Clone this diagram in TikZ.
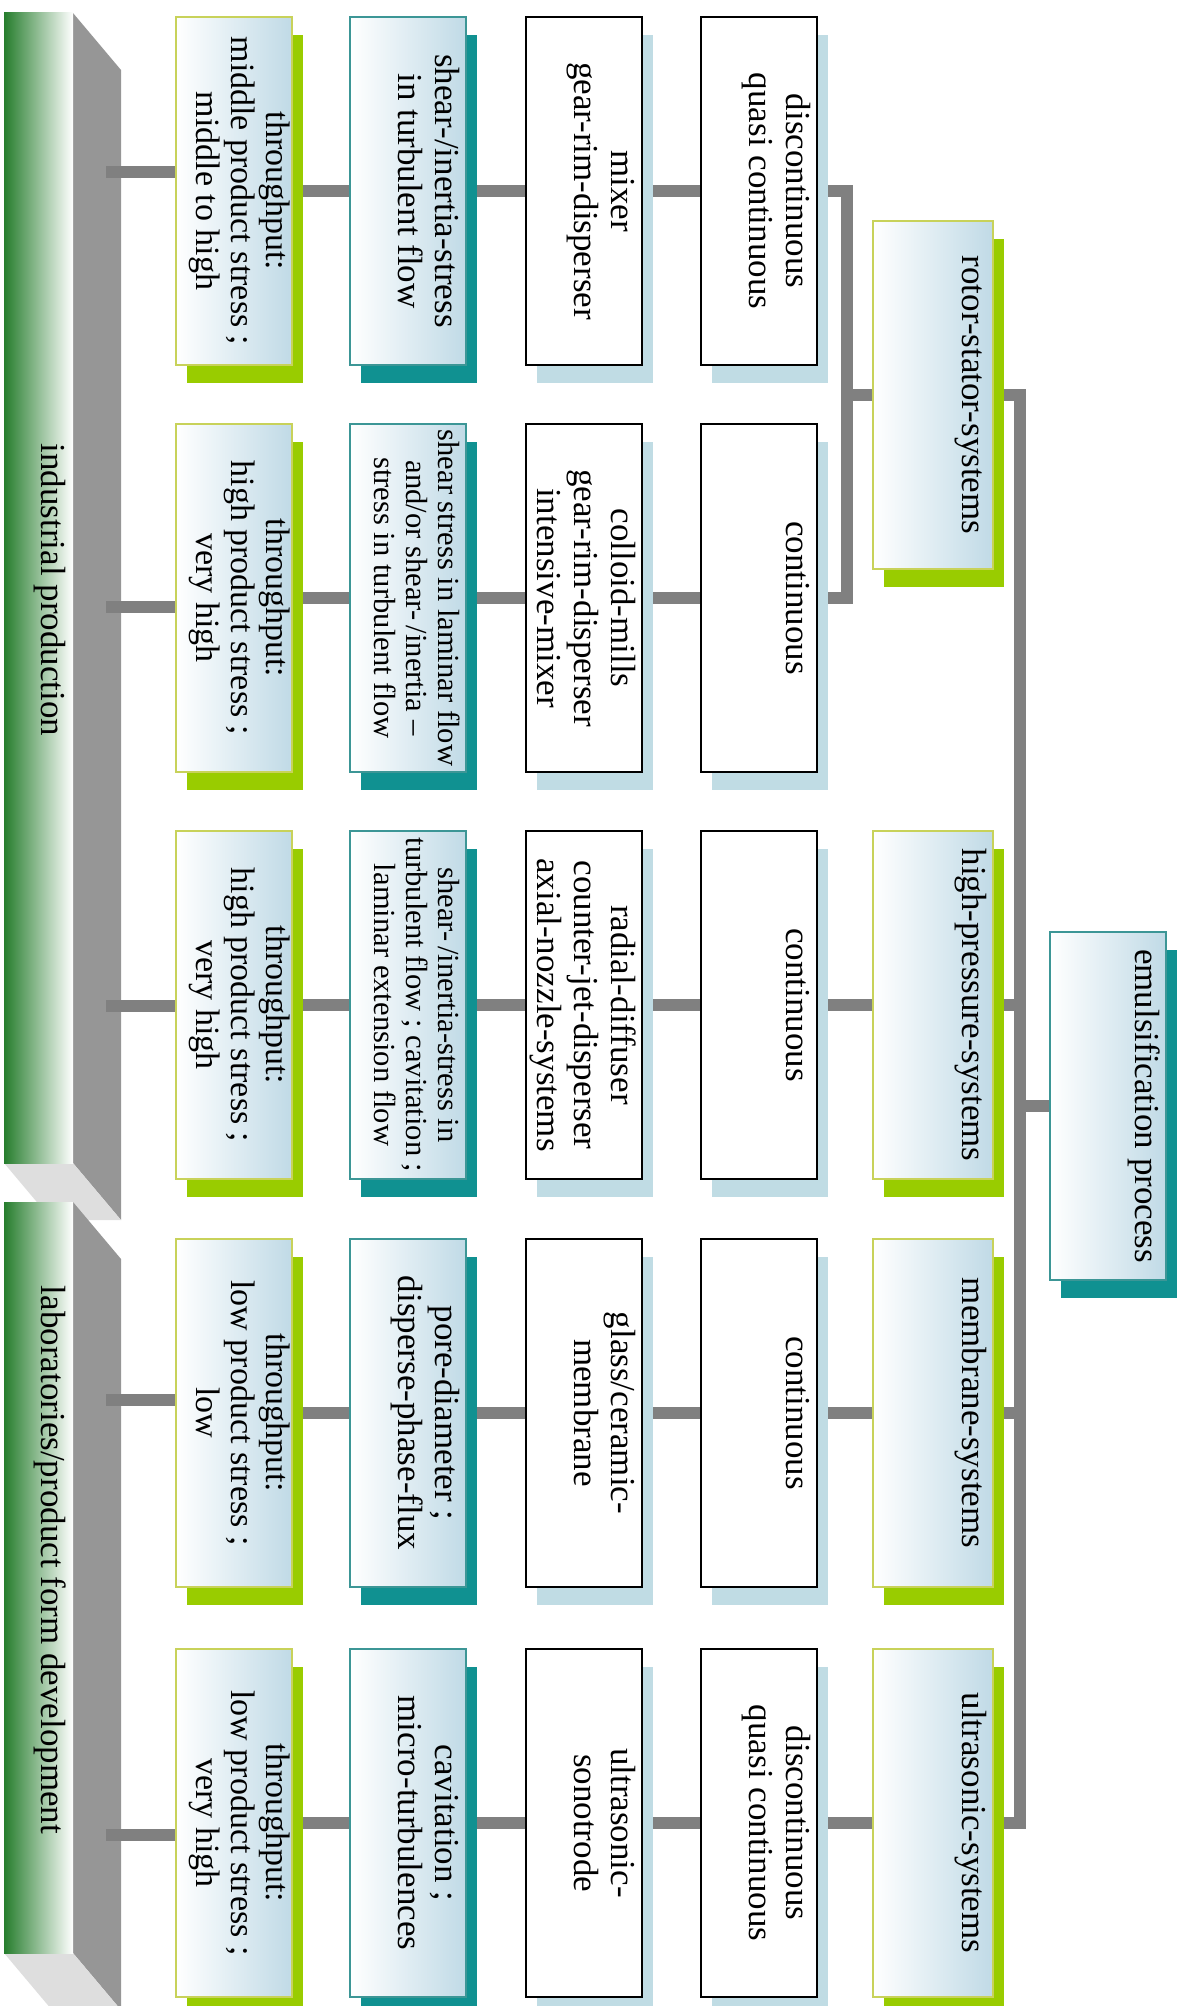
\documentclass[tikz,border=0pt]{standalone}
\usepackage{fontspec}
\setmainfont{Liberation Serif}
\usepackage{graphicx}
\usetikzlibrary{shadows,backgrounds}

\definecolor{bargreen}{RGB}{38,125,45}
\definecolor{bargray}{RGB}{150,150,150}
\definecolor{barlight}{RGB}{222,222,222}
\definecolor{conngray}{RGB}{128,128,128}
\definecolor{limeshadow}{RGB}{153,204,0}
\definecolor{limeline}{RGB}{200,210,90}
\definecolor{tealshadow}{RGB}{16,145,145}
\definecolor{tealline}{RGB}{60,150,150}
\definecolor{paleblue}{RGB}{192,220,228}
\definecolor{shadeblue}{RGB}{192,218,230}

\newcommand{\boxfont}{\fontsize{17}{17.5}\selectfont\vspace*{-2.5pt}}
\newcommand{\boxfontbig}{\fontsize{17.5}{18.5}\selectfont\vspace*{-0.5pt}}
\newcommand{\boxfontsmall}{\fontsize{15.3}{16}\selectfont\vspace*{-0.5pt}}
\newcommand{\sysfont}{\fontsize{17.5}{20}\selectfont\vspace*{-2.5pt}}
\newcommand{\emulfont}{\fontsize{17.5}{20}\selectfont\vspace*{-1.5pt}}
\newcommand{\boxtext}[2][\boxfontbig]{\rotatebox{-90}{\begin{minipage}[c][52pt][t]{172pt}\centering#1\strut#2\end{minipage}}}

\begin{document}
\begin{tikzpicture}[x=0.5pt,y=-0.5pt,
  box/.style={rectangle,inner sep=0pt,minimum width=58pt,minimum height=174pt,line width=0.8pt},
  limebox/.style={box,draw=limeline,left color=white,right color=shadeblue,
    drop shadow={shadow xshift=5.5pt,shadow yshift=-9pt,fill=limeshadow,opacity=1}},
  tealbox/.style={box,draw=tealline,left color=white,right color=shadeblue,
    drop shadow={shadow xshift=5.5pt,shadow yshift=-9pt,fill=tealshadow,opacity=1}},
  plainbox/.style={box,draw=black,line width=1.1pt,fill=white,
    drop shadow={shadow xshift=5.5pt,shadow yshift=-9pt,fill=paleblue,opacity=1}},
  sysbox/.style={limebox,minimum width=60pt},
  conn/.style={draw=conngray,line width=6pt},
  barlabel/.style={rotate=-90,font=\fontsize{17.5}{20}\selectfont}]
\useasboundingbox (0,0) rectangle (1187,2006);

% row 1
\node[limebox] (r1c1) at (234,191) {\boxtext[\boxfont]{throughput:\\middle product stress ;\\middle to high}};
\node[tealbox] (r1c2) at (408,191) {\boxtext{shear-/inertia-stress\\in turbulent flow}};
\node[plainbox] (r1c3) at (584,191) {\boxtext{mixer\\gear-rim-disperser}};
\node[plainbox] (r1c4) at (759,191) {\boxtext{discontinuous\\quasi continuous}};
% row 2
\node[limebox] (r2c1) at (234,598) {\boxtext[\boxfont]{throughput:\\high product stress ;\\very high}};
\node[tealbox] (r2c2) at (408,598) {\boxtext[\boxfontsmall]{shear stress in laminar flow\\and/or shear-\,/inertia --\\stress in turbulent flow}};
\node[plainbox] (r2c3) at (584,598) {\boxtext{colloid-mills\\gear-rim-disperser\\intensive-mixer}};
\node[plainbox] (r2c4) at (759,598) {\boxtext{continuous}};
% row 3
\node[limebox] (r3c1) at (234,1005) {\boxtext[\boxfont]{throughput:\\high product stress ;\\very high}};
\node[tealbox] (r3c2) at (408,1005) {\boxtext[\boxfontsmall]{shear-\,/inertia-stress in\\turbulent flow ; cavitation ;\\laminar extension flow}};
\node[plainbox] (r3c3) at (584,1005) {\boxtext{radial-diffuser\\counter-jet-disperser\\axial-nozzle-systems}};
\node[plainbox] (r3c4) at (759,1005) {\boxtext{continuous}};
% row 4
\node[limebox] (r4c1) at (234,1413) {\boxtext[\boxfont]{throughput:\\low product stress ;\\low}};
\node[tealbox] (r4c2) at (408,1413) {\boxtext{pore-diameter ;\\disperse-phase-flux}};
\node[plainbox] (r4c3) at (584,1413) {\boxtext{glass/ceramic-\\membrane}};
\node[plainbox] (r4c4) at (759,1413) {\boxtext{continuous}};
% row 5
\node[limebox] (r5c1) at (234,1823) {\boxtext[\boxfont]{throughput:\\low product stress ;\\very high}};
\node[tealbox] (r5c2) at (408,1823) {\boxtext{cavitation ;\\micro-turbulences}};
\node[plainbox] (r5c3) at (584,1823) {\boxtext{ultrasonic-\\sonotrode}};
\node[plainbox] (r5c4) at (759,1823) {\boxtext{discontinuous\\quasi continuous}};

% systems
\node[sysbox] (rs) at (933,395) {\boxtext[\sysfont]{rotor-stator-systems}};
\node[sysbox] (hp) at (933,1005) {\boxtext[\sysfont]{high-pressure-systems}};
\node[sysbox] (mb) at (933,1413) {\boxtext[\sysfont]{membrane-systems}};
\node[sysbox] (us) at (933,1823) {\boxtext[\sysfont]{ultrasonic-systems}};
\node[tealbox] (emul) at (1108,1106) {\boxtext[\emulfont]{emulsification process}};

% application bars
\node[barlabel] (indl) at (50,590) {industrial production};
\node[barlabel] (labl) at (50,1560) {laboratories/product form development};

\begin{scope}[on background layer]
  \fill[bargray] (73,13) -- (121,70) -- (121,1220) -- (73,1163) -- cycle;
  \fill[barlight] (4,1163) -- (73,1163) -- (121,1220) -- (52,1220) -- cycle;
  \shade[left color=bargreen,right color=white] (4,13) rectangle (73,1163);
  \fill[bargray] (73,1202) -- (121,1259) -- (121,2010) -- (73,1953) -- cycle;
  \fill[barlight] (4,1953) -- (73,1953) -- (121,2010) -- (52,2010) -- cycle;
  \shade[left color=bargreen,right color=white] (4,1202) rectangle (73,1953);

  \coordinate (ip1) at (106,172);
  \coordinate (ip2) at (106,607);
  \coordinate (ip3) at (106,1006);
  \coordinate (lp4) at (106,1400);
  \coordinate (lp5) at (106,1835);
  \draw[conn] (ip1) -- (ip1 -| r1c1.west);
  \draw[conn] (ip2) -- (ip2 -| r2c1.west);
  \draw[conn] (ip3) -- (ip3 -| r3c1.west);
  \draw[conn] (lp4) -- (lp4 -| r4c1.west);
  \draw[conn] (lp5) -- (lp5 -| r5c1.west);

  \foreach \row in {1,...,5}{
    \draw[conn] (r\row c1.east) -- (r\row c2.west);
    \draw[conn] (r\row c2.east) -- (r\row c3.west);
    \draw[conn] (r\row c3.east) -- (r\row c4.west);
  }

  \coordinate (fork) at (847,0);
  \coordinate (trunk) at (1020,0);
  \draw[conn] (r1c4.east) -| (fork |- r2c4.east) -- (r2c4.east);
  \draw[conn] (fork |- rs.west) -- (rs.west);
  \draw[conn] (r3c4.east) -- (hp.west);
  \draw[conn] (r4c4.east) -- (mb.west);
  \draw[conn] (r5c4.east) -- (us.west);

  \draw[conn] (rs.east) -| (trunk |- us.east) -- (us.east);
  \draw[conn] (hp.east) -- (trunk |- hp.east);
  \draw[conn] (mb.east) -- (trunk |- mb.east);
  \draw[conn] (trunk |- emul.west) -- (emul.west);
\end{scope}
\end{tikzpicture}
\end{document}
